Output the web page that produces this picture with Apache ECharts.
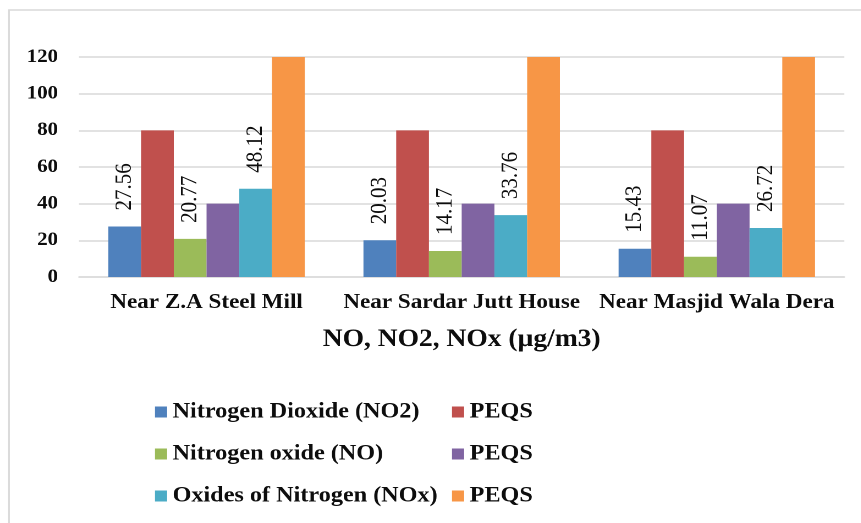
<!DOCTYPE html>
<html>
<head>
<meta charset="utf-8">
<script src="https://cdn.jsdelivr.net/npm/echarts@6/dist/echarts.min.js"></script>
<style>
  html, body { margin: 0; padding: 0; background: #ffffff; overflow: hidden; }
  /* the chart is laid out slightly narrow and widened to the page so the serif text gets a broader look */
  #chart { width: 782.7px; height: 523px; transform: scaleX(1.1); transform-origin: 0 0; }
</style>
</head>
<body>
<div id="chart"></div>
<script>
// Sampling sites
const categories = ['Near Z.A Steel Mill', 'Near Sardar Jutt House', 'Near Masjid Wala Dera'];

// Measured concentrations (µg/m3) and their PEQS limits
const no2Values = [27.56, 20.03, 15.43];
const no2Peqs = [80, 80, 80];
const noValues = [20.77, 14.17, 11.07];
const noPeqs = [40, 40, 40];
const noxValues = [48.12, 33.76, 26.72];
const noxPeqs = [120, 120, 120];

// Value axis ticks
const yMin = 0;
const yMax = 120;
const yStep = 20;

const serif = 'Liberation Serif';
const ink = '#0d0d0d';

const valueLabel = {
  show: true,
  position: 'top',
  rotate: 90,
  align: 'left',
  verticalAlign: 'middle',
  distance: 16,
  fontFamily: serif,
  fontSize: 21,
  color: ink
};

function barSeries(name, data, color, withLabel) {
  return {
    name: name,
    type: 'bar',
    data: data,
    barGap: '0%',
    barCategoryGap: '23%',
    itemStyle: { color: color },
    label: withLabel ? valueLabel : { show: false },
    emphasis: { disabled: true }
  };
}

const chart = echarts.init(document.getElementById('chart'), null, { renderer: 'canvas', devicePixelRatio: 2 });

chart.setOption({
  animation: false,
  backgroundColor: '#ffffff',
  textStyle: { fontFamily: serif },
  graphic: [{
    type: 'rect',
    shape: { x: 8.2, y: 10, width: 900, height: 700 },
    style: { fill: 'none', stroke: '#d9d9d9', lineWidth: 1.5 },
    silent: true
  }],
  grid: { left: 71.8, right: 15.4, top: 57, bottom: 246, containLabel: false },
  xAxis: {
    type: 'category',
    data: categories,
    axisLine: { show: true, lineStyle: { color: '#d9d9d9', width: 1.5 } },
    axisTick: { show: false },
    axisLabel: { interval: 0, fontFamily: serif, fontWeight: 'bold', fontSize: 21, color: ink, margin: 15 },
    name: 'NO, NO2, NOx (µg/m3)',
    nameLocation: 'middle',
    nameGap: 50,
    nameTextStyle: { fontFamily: serif, fontWeight: 'bold', fontSize: 25, color: ink }
  },
  yAxis: {
    type: 'value',
    min: yMin,
    max: yMax,
    interval: yStep,
    axisLine: { show: false },
    axisTick: { show: false },
    splitLine: { lineStyle: { color: '#d9d9d9', width: 1.5 } },
    axisLabel: { fontFamily: serif, fontWeight: 'bold', fontSize: 19, color: ink, margin: 19 }
  },
  legend: [
    {
      orient: 'vertical',
      left: 140.9,
      top: 400,
      padding: 0,
      itemGap: 18,
      itemWidth: 11,
      itemHeight: 11,
      icon: 'rect',
      selectedMode: false,
      data: ['Nitrogen Dioxide (NO2)', 'Nitrogen oxide (NO)', 'Oxides of Nitrogen (NOx)'],
      textStyle: { fontFamily: serif, fontWeight: 'bold', fontSize: 22, color: ink, lineHeight: 24 }
    },
    {
      orient: 'vertical',
      left: 410.9,
      top: 400,
      padding: 0,
      itemGap: 18,
      itemWidth: 11,
      itemHeight: 11,
      icon: 'rect',
      selectedMode: false,
      data: ['PEQS NO2', 'PEQS NO', 'PEQS NOx'],
      formatter: function () { return 'PEQS'; },
      textStyle: { fontFamily: serif, fontWeight: 'bold', fontSize: 22, color: ink, lineHeight: 24 }
    }
  ],
  series: [
    barSeries('Nitrogen Dioxide (NO2)', no2Values, '#4f81bd', true),
    barSeries('PEQS NO2', no2Peqs, '#c0504d', false),
    barSeries('Nitrogen oxide (NO)', noValues, '#9bbb59', true),
    barSeries('PEQS NO', noPeqs, '#8064a2', false),
    barSeries('Oxides of Nitrogen (NOx)', noxValues, '#4bacc6', true),
    barSeries('PEQS NOx', noxPeqs, '#f79646', false)
  ]
});
</script>
</body>
</html>
